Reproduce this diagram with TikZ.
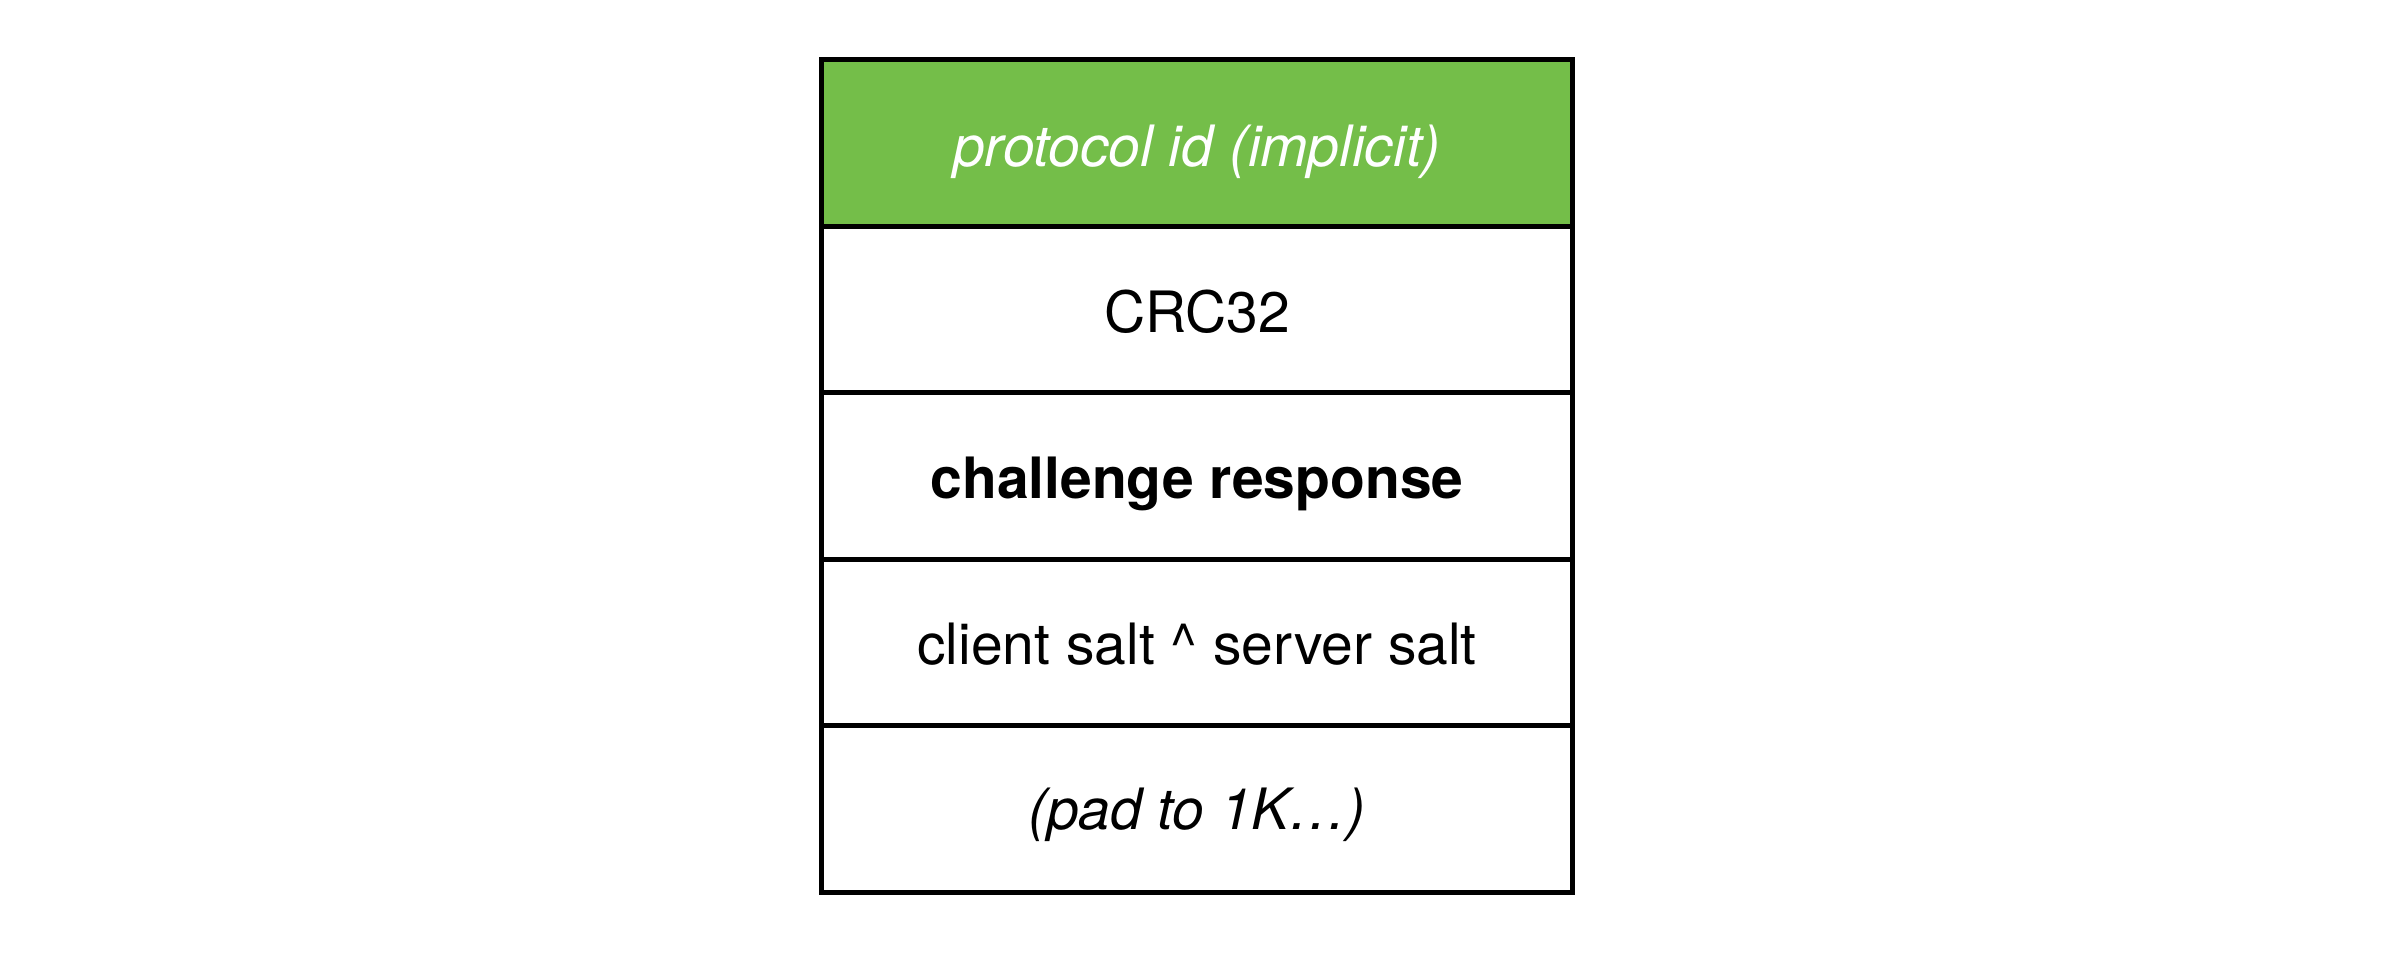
\documentclass[tikz,border=0pt]{standalone}
\usepackage{fontspec}
\setmainfont{TeX Gyre Heros}
\definecolor{idgreen}{RGB}{116,190,73}
\begin{document}
\begin{tikzpicture}[x=1pt,y=-1pt,
  rowbox/.style={draw=black,line width=5pt,minimum width=751pt,minimum height=166.6pt,inner sep=0pt,outer sep=0pt},
  rowtext/.style={anchor=base,font=\fontsize{57}{68}\selectfont,inner sep=0pt}]
\useasboundingbox (0,0) rectangle (2395,959);
\node[rowbox,fill=idgreen] (r1) at (1197,142.8) {};
\node[rowbox] (r2) at (1197,309.4) {};
\node[rowbox] (r3) at (1197,476.0) {};
\node[rowbox] (r4) at (1197,642.6) {};
\node[rowbox] (r5) at (1197,809.2) {};
\node[rowtext,text=white] (t1) at (1197,166) {\itshape protocol id (implicit)};
\node[rowtext] (t2) at (1197,332) {CRC32};
\node[rowtext] (t3) at (1197,498) {\bfseries challenge response};
\node[rowtext] (t4) at (1197,664) {client salt \^{} server salt};
\node[rowtext] (t5) at (1197,829) {\itshape (pad to 1K\dots)};
\end{tikzpicture}
\end{document}
